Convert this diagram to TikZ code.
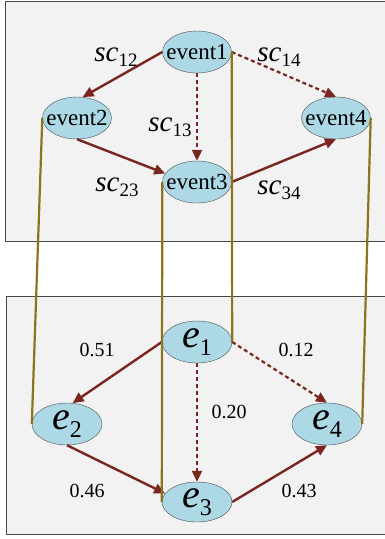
\documentclass[tikz,border=0pt]{standalone}
\usepackage{fontspec}
\setmainfont{Liberation Serif}
\usetikzlibrary{arrows.meta,shapes.geometric}

\definecolor{flowred}{RGB}{122,38,32}
\definecolor{linkgold}{RGB}{140,115,28}
\definecolor{evfill}{RGB}{173,216,230}
\definecolor{panelfill}{RGB}{242,242,242}
\definecolor{panelline}{RGB}{70,70,70}

\newcommand{\evname}[1]{\makebox[0pt]{\fontsize{23}{23}\selectfont event#1}}
\newcommand{\evsym}[1]{{\fontsize{40}{40}\selectfont\itshape e}\raisebox{-8pt}{\fontsize{24}{24}\selectfont #1}}
\newcommand{\sclab}[1]{{\fontsize{29}{29}\selectfont\itshape sc}\raisebox{-5pt}{\fontsize{19}{19}\selectfont #1}}

\tikzset{
  evt/.style={ellipse, draw=black!70, thin, fill=evfill, inner sep=0pt,
    minimum width=69pt, minimum height=42pt},
  flow/.style={-{Triangle[length=11pt,width=10pt]}, flowred, line width=2.4pt},
  flowdash/.style={flow, line width=2.2pt, dash pattern=on 4pt off 3pt},
  link/.style={linkgold, line width=2.2pt},
  panel/.style={fill=panelfill, draw=panelline, line width=1pt},
  num/.style={font=\fontsize{20}{20}\selectfont, inner sep=0pt}
}

\begin{document}
\begin{tikzpicture}[x=1pt, y=-1pt, line join=round]
  \useasboundingbox (0,0) rectangle (385,539);
  \fill[white] (0,0) rectangle (385,539);

  % two panels
  \draw[panel] (5,1) rectangle (392,241);
  \draw[panel] (6,296) rectangle (392,534);

  % event layer
  \node[evt] (ev1) at (197,52) {\evname{1}};
  \node[evt] (ev2) at (77,118) {\evname{2}};
  \node[evt] (ev3) at (197,182) {\evname{3}};
  \node[evt] (ev4) at (336,118) {\evname{4}};

  \draw[flow] (ev1.west) -- (ev2.75);
  \draw[flow] (ev2.south) -- (ev3.165);
  \draw[flow] (ev3.east) -- (ev4.south);
  \draw[flowdash] (ev1.south) -- (ev3.north);
  \draw[flowdash] (ev1.east) -- (ev4.north);

  \node (s12) at (116,57) {\sclab{12}};
  \node (s14) at (279,57) {\sclab{14}};
  \node (s13) at (170,127) {\sclab{13}};
  \node (s23) at (117,187) {\sclab{23}};
  \node (s34) at (279,190) {\sclab{34}};

  % element layer
  \node[evt, minimum width=70pt] (e1) at (197,342) {\evsym{1}};
  \node[evt, minimum width=70pt] (e2) at (67,424) {\evsym{2}};
  \node[evt, minimum width=70pt, minimum height=40pt] (e3) at (197,502) {\evsym{3}};
  \node[evt, minimum width=70pt] (e4) at (327,424) {\evsym{4}};

  \draw[flow] (e1.west) -- (e2.75);
  \draw[flow] (e2.south) -- (e3.165);
  \draw[flow] (e3.east) -- (e4.south);
  \draw[flowdash] (e1.south) -- (e3.north);
  \draw[flowdash] (e1.east) -- (e4.north);

  \node[num] (p12) at (97,350) {0.51};
  \node[num] (p14) at (296,350) {0.12};
  \node[num] (p13) at (229,412) {0.20};
  \node[num] (p23) at (87,491) {0.46};
  \node[num] (p34) at (299,491) {0.43};

  % vertical links
  \draw[link] (ev2.west) -- (e2.west);
  \draw[link] (ev3.west) -- (e3.west);
  \draw[link] (ev1.east) -- (e1.east);
  \draw[link] (ev4.east) -- (e4.east);
\end{tikzpicture}
\end{document}
